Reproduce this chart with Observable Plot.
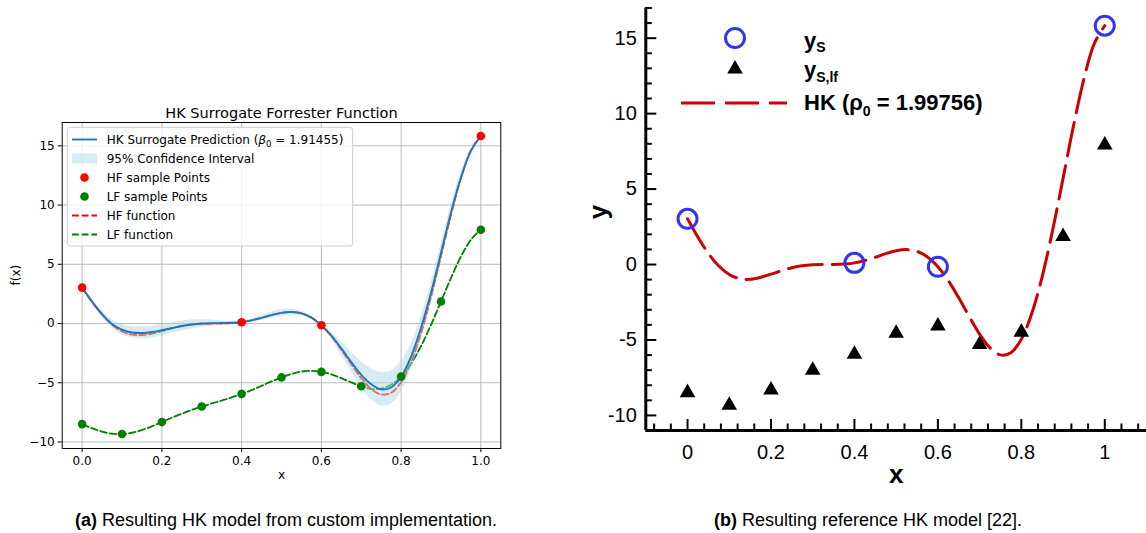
<!DOCTYPE html>
<html><head><meta charset="utf-8">
<script src="https://cdn.jsdelivr.net/npm/d3@7"></script>
<script src="https://cdn.jsdelivr.net/npm/@observablehq/plot@0.6"></script>
<style>
html,body{margin:0;padding:0;background:#fff;}
#wrap{position:relative;width:1146px;height:533px;overflow:hidden;background:#fff;}
#left{position:absolute;left:0;top:0;}
#right{position:absolute;left:560px;top:0;}
.cap{position:absolute;top:509px;font-family:"Liberation Sans",Arial,sans-serif;font-size:18px;line-height:22px;text-align:center;color:#000;white-space:nowrap;}
</style></head><body>
<div id="wrap"><div id="left"></div><div id="right"></div>
<div class="cap" style="left:36px;width:500px;"><b>(a)</b> Resulting HK model from custom implementation.</div>
<div class="cap" style="left:668px;width:400px;"><b>(b)</b> Resulting reference HK model [22].</div>
</div>
<script>
// ---- data ----
const xFine = [0,0.025,0.05,0.075,0.1,0.125,0.15,0.175,0.2,0.225,0.25,0.275,0.3,0.325,0.35,0.375,0.4,0.425,0.45,0.475,0.5,0.525,0.55,0.575,0.6,0.625,0.65,0.675,0.7,0.725,0.75,0.775,0.8,0.825,0.85,0.875,0.9,0.925,0.95,0.975,1];
const hfFine = [3.03,1.81,0.74,-0.10,-0.66,-0.94,-0.98,-0.85,-0.64,-0.41,-0.21,-0.08,-0.02,0.00,0.00,0.03,0.11,0.27,0.48,0.72,0.91,0.99,0.87,0.50,-0.15,-1.07,-2.21,-3.44,-4.61,-5.52,-5.99,-5.85,-4.95,-3.25,-0.80,2.27,5.71,9.19,12.30,14.65,15.83];
const lfFine = [-8.49,-8.84,-9.13,-9.30,-9.33,-9.22,-8.99,-8.68,-8.32,-7.95,-7.61,-7.29,-7.01,-6.75,-6.50,-6.24,-5.94,-5.62,-5.26,-4.89,-4.55,-4.26,-4.06,-4.00,-4.08,-4.29,-4.61,-4.97,-5.30,-5.51,-5.50,-5.17,-4.48,-3.38,-1.90,-0.11,1.86,3.84,5.65,7.07,7.92];
const hkFine = [3.03,1.85,0.80,-0.03,-0.52,-0.76,-0.80,-0.72,-0.56,-0.38,-0.21,-0.08,0.00,0.03,0.04,0.06,0.12,0.27,0.48,0.71,0.90,0.97,0.86,0.50,-0.15,-1.02,-2.10,-3.25,-4.33,-5.12,-5.55,-5.40,-4.50,-2.80,-0.35,2.60,5.95,9.35,12.30,14.55,15.83];
const ciHalf = [0,0.12,0.25,0.35,0.42,0.47,0.50,0.50,0.48,0.45,0.42,0.38,0.33,0.26,0.18,0.09,0,0.10,0.20,0.26,0.28,0.25,0.18,0.09,0,0.25,0.55,0.85,1.10,1.30,1.42,1.40,1.30,1.10,0.95,0.85,0.75,0.60,0.40,0.20,0];
const hkRefFine = [3.03,1.81,0.74,-0.10,-0.66,-0.94,-0.98,-0.85,-0.64,-0.41,-0.21,-0.08,-0.02,0.00,0.00,0.03,0.11,0.27,0.48,0.72,0.91,0.99,0.87,0.50,-0.15,-1.07,-2.21,-3.44,-4.61,-5.52,-5.99,-5.85,-4.95,-3.25,-0.80,2.27,5.71,9.19,12.30,14.65,15.83];
const hfSampleX = [0,0.4,0.6,1];
const hfSampleY = [3.03,0.11,-0.15,15.83];
const lfSampleX = [0,0.1,0.2,0.3,0.4,0.5,0.6,0.7,0.8,0.9,1];
const lfSampleY = [-8.49,-9.33,-8.32,-7.01,-5.94,-4.55,-4.08,-5.30,-4.48,1.86,7.92];
const leftXTicks = [0,0.2,0.4,0.6,0.8,1.0];
const leftYTicks = [-10,-5,0,5,10,15];
const rightXTicks = [0,0.2,0.4,0.6,0.8,1];
const rightXTickLabels = ["0","0.2","0.4","0.6","0.8","1"];
const rightYTicks = [-10,-5,0,5,10,15];
const rightYTickLabels = ["-10","-5","0","5","10","15"];

const rows = xFine.map((x,i)=>({x, hf:hfFine[i], lf:lfFine[i], hk:hkFine[i], lo:hkFine[i]-ciHalf[i], hi:hkFine[i]+ciHalf[i], ref:hkRefFine[i]}));
const hfPts = hfSampleX.map((x,i)=>({x, y:hfSampleY[i]}));
const lfPts = lfSampleX.map((x,i)=>({x, y:lfSampleY[i]}));

// ---- left panel (matplotlib style) ----
const L = {w:560, h:500, ml:61.7, mr:59.7, mt:122, mb:52};
const left = Plot.plot({
  width:L.w, height:L.h, marginLeft:L.ml, marginRight:L.mr, marginTop:L.mt, marginBottom:L.mb,
  style:{fontFamily:"'DejaVu Sans', sans-serif", fontSize:"12px", color:"black", background:"white"},
  x:{domain:[-0.05,1.05]},
  y:{domain:[-10.55,16.97]},
  marks:[
    Plot.gridX(leftXTicks,{stroke:"#b0b0b0", strokeOpacity:0.85, strokeWidth:1}),
    Plot.gridY(leftYTicks,{stroke:"#b0b0b0", strokeOpacity:0.85, strokeWidth:1}),
    Plot.line(rows,{x:"x", y:"hf", stroke:"red", strokeWidth:1.8, strokeDasharray:"6.8,2.9", curve:"catmull-rom"}),
    Plot.line(rows,{x:"x", y:"lf", stroke:"green", strokeWidth:1.8, strokeDasharray:"6.8,2.9", curve:"catmull-rom"}),
    Plot.areaY(rows,{x:"x", y1:"lo", y2:"hi", fill:"#add8e6", fillOpacity:0.5, curve:"catmull-rom"}),
    Plot.line(rows,{x:"x", y:"hk", stroke:"#1f77b4", strokeWidth:1.9, curve:"catmull-rom"}),
    Plot.dot(hfPts,{x:"x", y:"y", r:4.3, fill:"red"}),
    Plot.dot(lfPts,{x:"x", y:"y", r:4.3, fill:"green"}),
    Plot.frame({stroke:"black", strokeWidth:1}),
    Plot.axisX({ticks:leftXTicks, tickFormat:d3.format(".1f"), tickSize:4, tickPadding:3.5, label:null, fontSize:12}),
    Plot.axisY({ticks:leftYTicks, tickFormat:d3.format("d"), tickSize:4, tickPadding:3.5, label:null, fontSize:12}),
    Plot.text(["HK Surrogate Forrester Function"],{frameAnchor:"top", dy:-15, fontSize:14.5}),
    Plot.text(["x"],{frameAnchor:"bottom", dy:30, fontSize:12}),
    Plot.text(["f(x)"],{frameAnchor:"left", dx:-46, rotate:-90, fontSize:12})
  ]
});
document.getElementById("left").appendChild(left);

// legend (left)
{
  const g = d3.select(left).append("g").attr("font-family","'DejaVu Sans', sans-serif").attr("font-size",12).attr("fill","black").attr("text-anchor","start");
  g.append("rect").attr("x",67.3).attr("y",127.3).attr("width",285.4).attr("height",118.7).attr("rx",3)
    .attr("fill","white").attr("fill-opacity",0.8).attr("stroke","#cccccc").attr("stroke-width",1);
  const ys = [139.5,158.5,177.5,196.5,215.5,234.5];
  const hx0 = 72, hx1 = 97, tx = 106.7;
  g.append("line").attr("x1",hx0).attr("x2",hx1).attr("y1",ys[0]).attr("y2",ys[0]).attr("stroke","#1f77b4").attr("stroke-width",1.9);
  g.append("rect").attr("x",hx0).attr("y",ys[1]-5).attr("width",hx1-hx0).attr("height",10).attr("fill","#add8e6").attr("fill-opacity",0.5);
  g.append("circle").attr("cx",84.5).attr("cy",ys[2]).attr("r",4.3).attr("fill","red");
  g.append("circle").attr("cx",84.5).attr("cy",ys[3]).attr("r",4.3).attr("fill","green");
  g.append("line").attr("x1",hx0).attr("x2",hx1).attr("y1",ys[4]).attr("y2",ys[4]).attr("stroke","red").attr("stroke-width",1.8).attr("stroke-dasharray","6.8,2.9");
  g.append("line").attr("x1",hx0).attr("x2",hx1).attr("y1",ys[5]).attr("y2",ys[5]).attr("stroke","green").attr("stroke-width",1.8).attr("stroke-dasharray","6.8,2.9");
  const t0 = g.append("text").attr("x",tx).attr("y",ys[0]).attr("dy","0.35em");
  t0.append("tspan").text("HK Surrogate Prediction (");
  t0.append("tspan").attr("font-style","italic").text("β");
  t0.append("tspan").attr("font-size",8.5).attr("dy",3).text("0");
  t0.append("tspan").attr("dy",-3).text(" = 1.91455)");
  const labs = ["95% Confidence Interval","HF sample Points","LF sample Points","HF function","LF function"];
  labs.forEach((s,i)=>g.append("text").attr("x",tx).attr("y",ys[i+1]).attr("dy","0.35em").text(s));
}

// ---- right panel (Tecplot style) ----
const R = {w:586, h:500, ml:85.3, mr:0, mt:7.5, mb:70};
const frameW = R.w - R.ml - R.mr, frameH = R.h - R.mt - R.mb;
const isMajorX = v => Math.abs(v*5 - Math.round(v*5)) < 1e-6;
const rightXMinor = d3.range(-0.08, 1.1, 0.04).map(v=>Math.round(v*100)/100).filter(v=>!isMajorX(v));
const rightYMinor = d3.range(-10, 18).filter(v=>v % 5 !== 0);
const right = Plot.plot({
  width:R.w, height:R.h, marginLeft:R.ml, marginRight:R.mr, marginTop:R.mt, marginBottom:R.mb,
  style:{fontFamily:"'Liberation Sans', Arial, sans-serif", fontSize:"20px", color:"black", background:"white"},
  x:{domain:[-0.1,1.1]},
  y:{domain:[-11,17]},
  marks:[
    Plot.line(rows,{x:"x", y:"ref", stroke:"#cc0000", strokeWidth:3, strokeDasharray:"34,10", curve:"catmull-rom"}),
    Plot.dot(hfPts,{x:"x", y:"y", r:9.5, stroke:"#3333f2", strokeWidth:3, fill:"none"}),
    Plot.dot(lfPts,{x:"x", y:"y", r:5.8, symbol:"triangle", fill:"black"}),
    Plot.tickY(rightYTicks,{y:d=>d, insetRight:frameW-11, stroke:"black", strokeWidth:2}),
    Plot.tickY(rightYMinor,{y:d=>d, insetRight:frameW-6.5, stroke:"black", strokeWidth:2}),
    Plot.tickX(rightXTicks,{x:d=>d, insetTop:frameH-11, stroke:"black", strokeWidth:2}),
    Plot.tickX(rightXMinor,{x:d=>d, insetTop:frameH-6.5, stroke:"black", strokeWidth:2}),
    Plot.ruleX([-0.1],{stroke:"black", strokeWidth:3}),
    Plot.ruleY([-11],{stroke:"black", strokeWidth:3}),
    Plot.axisX({ticks:rightXTicks, tickFormat:d=>rightXTickLabels[rightXTicks.indexOf(d)], tickSize:0, tickPadding:14, label:null, fontSize:20}),
    Plot.axisY({ticks:rightYTicks, tickFormat:d=>rightYTickLabels[rightYTicks.indexOf(d)], tickSize:0, tickPadding:9, label:null, fontSize:20}),
    Plot.text(["x"],{frameAnchor:"bottom", dy:52, fontSize:26, fontWeight:"bold"}),
    Plot.text(["y"],{frameAnchor:"left", dx:-47, rotate:-90, fontSize:26, fontWeight:"bold"})
  ]
});
document.getElementById("right").appendChild(right);

// legend (right)
{
  const g = d3.select(right).append("g").attr("font-family","'Liberation Sans', Arial, sans-serif").attr("font-weight","bold").attr("font-size",22).attr("fill","black").attr("text-anchor","start");
  g.append("circle").attr("cx",175).attr("cy",38).attr("r",9.5).attr("fill","none").attr("stroke","#3333f2").attr("stroke-width",3);
  g.append("path").attr("d",d3.symbol(d3.symbolTriangle, Math.PI*5.8*5.8)()).attr("transform","translate(175,69)").attr("fill","black");
  g.append("line").attr("x1",121).attr("x2",227).attr("y1",103).attr("y2",103).attr("stroke","#cc0000").attr("stroke-width",3).attr("stroke-dasharray","34,10");
  const tx = 244;
  const t1 = g.append("text").attr("x",tx).attr("y",48);
  t1.append("tspan").text("y");
  t1.append("tspan").attr("font-size",14).attr("dy",4).text("S");
  const t2 = g.append("text").attr("x",tx).attr("y",77);
  t2.append("tspan").text("y");
  t2.append("tspan").attr("font-size",14).attr("dy",5).text("S,lf");
  const t3 = g.append("text").attr("x",tx).attr("y",110);
  t3.append("tspan").text("HK (ρ");
  t3.append("tspan").attr("font-size",14).attr("dy",6).text("0");
  t3.append("tspan").attr("dy",-6).text(" = 1.99756)");
}
</script>
</body></html>
